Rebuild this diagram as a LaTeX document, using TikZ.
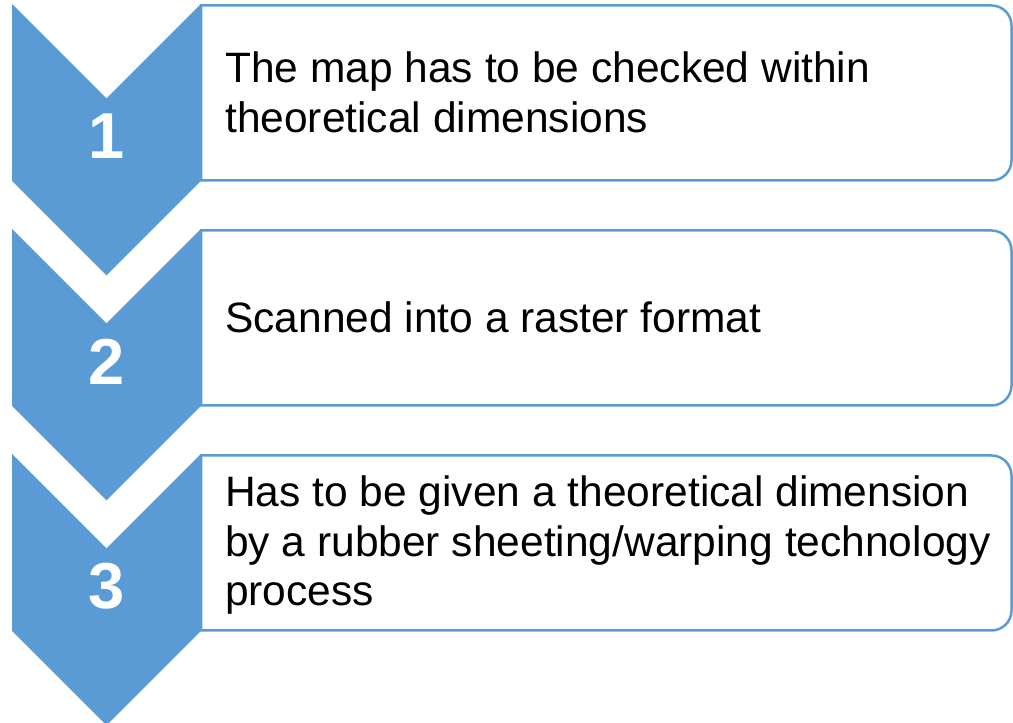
\documentclass[tikz,border=0pt]{standalone}
\usepackage{fontspec}
\setmainfont{Liberation Sans}
\definecolor{stepblue}{HTML}{5B9BD5}
\tikzset{
  chevron/.style={fill=stepblue, draw=none},
  stepframe/.style={draw=stepblue, line width=2.5pt, fill=white},
  stepnum/.style={text=white, inner sep=0pt, font=\fontsize{65}{70}\selectfont\bfseries},
  steptext/.style={anchor=base west, inner sep=0pt, text=black,
                   font=\fontsize{42.5}{49.5}\selectfont}
}
\begin{document}
\begin{tikzpicture}[x=1pt,y=1pt]
\useasboundingbox (0,0) rectangle (1013,723);
\foreach \i/\txt/\base in {
  0/{The map has to be checked within\\theoretical dimensions}/640.3,
  1/{Scanned into a raster format}/615.3,
  2/{Has to be given a theoretical dimension\\by a rubber sheeting/warping technology\\process}/666.3} {
  \begin{scope}[yshift=-225*\i]
    % downward chevron
    \path[chevron] (12,719) -- (106.5,624.5) -- (201,719) -- (201,542)
      -- (106.5,447.5) -- (12,542) -- cycle;
    % text frame, rounded on the right only
    \path[stepframe] (201,717.5) -- (991.5,717.5)
      arc[start angle=90,end angle=0,radius=20] -- (1011.5,562.5)
      arc[start angle=0,end angle=-90,radius=20] -- (201,542.5) -- cycle;
    \pgfmathtruncatemacro{\n}{\i+1}
    \node[stepnum] (num\n) at (106.5,586.5) {\n};
    \node[steptext] (txt\n) at (225,\base)
      {\parbox[t]{785pt}{\raggedright\txt}};
  \end{scope}
}
\end{tikzpicture}
\end{document}
